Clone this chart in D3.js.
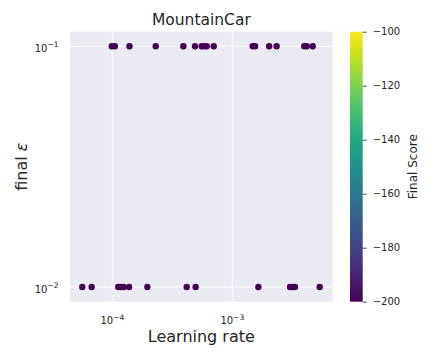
<!DOCTYPE html>
<html lang="en">
<head>
    <meta charset="UTF-8">
    <title>MountainCar</title>
    <script src="https://d3js.org/d3.v7.min.js"></script>
    <style>
        body { margin: 0; background: #fff; }
        svg { display: block; font-family: "DejaVu Sans", sans-serif; }
    </style>
</head>
<body>
    <svg id="chart" width="432" height="360"></svg>

    <script>
        // learning rate, final epsilon, final score per run
        const learningRates = [
            9.9e-5, 1.05e-4, 1.39e-4, 2.30e-4, 3.91e-4, 4.89e-4, 5.56e-4, 5.81e-4, 6.12e-4,
            7.00e-4, 1.48e-3, 1.55e-3, 2.03e-3, 2.34e-3, 3.98e-3, 4.17e-3, 4.68e-3,
            5.62e-5, 6.73e-5, 1.12e-4, 1.18e-4, 1.24e-4, 1.38e-4, 1.96e-4, 4.17e-4, 4.95e-4,
            1.65e-3, 3.03e-3, 3.16e-3, 3.33e-3, 5.35e-3
        ];
        const finalEps = [
            0.1, 0.1, 0.1, 0.1, 0.1, 0.1, 0.1, 0.1, 0.1,
            0.1, 0.1, 0.1, 0.1, 0.1, 0.1, 0.1, 0.1,
            0.01, 0.01, 0.01, 0.01, 0.01, 0.01, 0.01, 0.01, 0.01,
            0.01, 0.01, 0.01, 0.01, 0.01
        ];
        const finalScores = learningRates.map(() => -200);
        const xTickValues = [1e-4, 1e-3];
        const yTickValues = [1e-1, 1e-2];
        const scoreTicks = [-200, -180, -160, -140, -120, -100];

        const data = learningRates.map((lr, i) => ({ lr, eps: finalEps[i], score: finalScores[i] }));

        const svg = d3.select("#chart");
        const textColor = "#262626";
        const pLeft = 70, pRight = 332.7, pTop = 31.7, pBottom = 301.7;

        const x = d3.scaleLog().domain([4.44e-5, 6.87e-3]).range([pLeft, pRight]);
        const y = d3.scaleLog().domain([0.00869, 0.115]).range([pBottom, pTop]);
        const color = d3.scaleSequential(d3.interpolateViridis).domain([-200, -100]);

        // plot background + grid
        svg.append("rect").attr("x", pLeft).attr("y", pTop)
            .attr("width", pRight - pLeft).attr("height", pBottom - pTop).attr("fill", "#EAEAF2");
        svg.append("g").selectAll("line").data(xTickValues).enter().append("line")
            .attr("x1", d => x(d)).attr("x2", d => x(d)).attr("y1", pTop).attr("y2", pBottom)
            .attr("stroke", "#fff").attr("stroke-width", 1);
        svg.append("g").selectAll("line").data(yTickValues).enter().append("line")
            .attr("y1", d => y(d)).attr("y2", d => y(d)).attr("x1", pLeft).attr("x2", pRight)
            .attr("stroke", "#fff").attr("stroke-width", 1);

        // points
        svg.append("g").selectAll("circle").data(data).enter().append("circle")
            .attr("cx", d => x(d.lr)).attr("cy", d => y(d.eps))
            .attr("r", 3.2).attr("fill", d => color(d.score));

        // power-of-ten tick labels
        function powLabel(sel, v) {
            const e = Math.round(Math.log10(v));
            sel.append("tspan").text("10");
            sel.append("tspan").attr("dy", -4.5).attr("font-size", 7.5).text("\u2212" + Math.abs(e));
        }
        const xAxis = svg.append("g").attr("fill", textColor).attr("font-size", 10);
        xTickValues.forEach(v => {
            xAxis.append("text").attr("x", x(v)).attr("y", 324).attr("text-anchor", "middle")
                .call(powLabel, v);
        });
        const yAxis = svg.append("g").attr("fill", textColor).attr("font-size", 10);
        yTickValues.forEach(v => {
            yAxis.append("text").attr("x", 58.5).attr("y", y(v) + 5.5).attr("text-anchor", "end")
                .call(powLabel, v);
        });

        // titles
        svg.append("text").attr("x", (pLeft + pRight) / 2).attr("y", 25)
            .attr("text-anchor", "middle").attr("font-size", 15.5).attr("fill", textColor).text("MountainCar");
        svg.append("text").attr("x", (pLeft + pRight) / 2).attr("y", 342)
            .attr("text-anchor", "middle").attr("font-size", 16).attr("fill", textColor).text("Learning rate");
        const yLab = svg.append("text").attr("transform", `translate(27,${(pTop + pBottom) / 2}) rotate(-90)`)
            .attr("text-anchor", "middle").attr("font-size", 16).attr("fill", textColor);
        yLab.append("tspan").text("final ");
        yLab.append("tspan").attr("font-style", "italic").text("\u03b5");

        // colorbar
        const cbX = 350, cbW = 12.7;
        const cbY = d3.scaleLinear().domain([-200, -100]).range([pBottom, pTop]);
        const grad = svg.append("defs").append("linearGradient").attr("id", "viridis")
            .attr("x1", 0).attr("y1", 1).attr("x2", 0).attr("y2", 0);
        d3.range(0, 1.0001, 0.05).forEach(t => {
            grad.append("stop").attr("offset", t).attr("stop-color", d3.interpolateViridis(t));
        });
        svg.append("rect").attr("x", cbX).attr("y", pTop).attr("width", cbW)
            .attr("height", pBottom - pTop).attr("fill", "url(#viridis)");
        const cbAxis = svg.append("g").attr("transform", `translate(${cbX + cbW},0)`)
            .call(d3.axisRight(cbY).tickValues(scoreTicks).tickSize(4).tickPadding(6)
                .tickFormat(d => d3.format("d")(d).replace("-", "\u2212")));
        cbAxis.select(".domain").remove();
        cbAxis.selectAll("line").attr("stroke", textColor).attr("stroke-width", 0.8);
        cbAxis.selectAll("text").attr("fill", textColor).attr("font-size", 10)
            .attr("font-family", "DejaVu Sans");
        svg.append("text").attr("transform", `translate(417,${(pTop + pBottom) / 2}) rotate(-90)`)
            .attr("text-anchor", "middle").attr("font-size", 12).attr("fill", textColor).text("Final Score");
    </script>
</body>
</html>
